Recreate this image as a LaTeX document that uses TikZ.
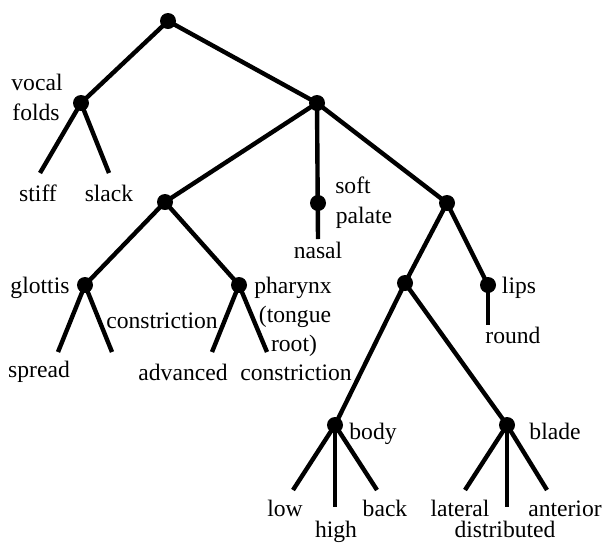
\documentclass[tikz,border=0pt]{standalone}
\usepackage{fontspec}
\setmainfont{Liberation Serif}
\usepackage{tikz}
\tikzset{
  dot/.style={circle, fill=black, inner sep=0pt, minimum size=8pt},
  br/.style={draw=black, line width=2.2pt},
  lab/.style={font=\fontsize{11.8}{14.5}\selectfont, inner sep=0pt, anchor=base},
  every picture/.append style={line cap=butt}
}
\begin{document}
\begin{tikzpicture}[x=0.5pt,y=-0.5pt]
  \useasboundingbox (0,0) rectangle (605,543);
  % dots
  \node[dot] (root) at (168,21) {};
  \node[dot] (vf) at (81,103) {};
  \node[dot] (sup) at (317,103) {};
  \node[dot] (lar) at (165,202) {};
  \node[dot] (sp) at (318,203) {};
  \node[dot] (oral) at (447,203) {};
  \node[dot] (gl) at (85,285) {};
  \node[dot] (ph) at (239,285) {};
  \node[dot] (tng) at (405,283) {};
  \node[dot] (lips) at (488,285) {};
  \node[dot] (body) at (335,425) {};
  \node[dot] (blade) at (507,425) {};
  % free ends
  \coordinate (stiffE) at (40,173);
  \coordinate (slackE) at (109,173);
  \coordinate (nasalE) at (318,239);
  \coordinate (spreadE) at (58,352);
  \coordinate (cgE) at (112,352);
  \coordinate (advE) at (212,352);
  \coordinate (cpE) at (267,352);
  \coordinate (roundE) at (488,325);
  \coordinate (lowE) at (293,490);
  \coordinate (highE) at (335,507);
  \coordinate (backE) at (377,490);
  \coordinate (latE) at (465,490);
  \coordinate (distE) at (507,507);
  \coordinate (antE) at (547,490);
  % branches
  \draw[br] (root.center) -- (vf.center);
  \draw[br] (root.center) -- (sup.center);
  \draw[br] (vf.center) -- (stiffE);
  \draw[br] (vf.center) -- (slackE);
  \draw[br] (sup.center) -- (lar.center);
  \draw[br] (sup.center) -- (nasalE);
  \draw[br] (sup.center) -- (oral.center);
  \draw[br] (lar.center) -- (gl.center);
  \draw[br] (lar.center) -- (ph.center);
  \draw[br] (gl.center) -- (spreadE);
  \draw[br] (gl.center) -- (cgE);
  \draw[br] (ph.center) -- (advE);
  \draw[br] (ph.center) -- (cpE);
  \draw[br] (oral.center) -- (tng.center);
  \draw[br] (oral.center) -- (lips.center);
  \draw[br] (lips.center) -- (roundE);
  \draw[br] (tng.center) -- (body.center);
  \draw[br] (tng.center) -- (blade.center);
  \draw[br] (body.center) -- (lowE);
  \draw[br] (body.center) -- (highE);
  \draw[br] (body.center) -- (backE);
  \draw[br] (blade.center) -- (latE);
  \draw[br] (blade.center) -- (distE);
  \draw[br] (blade.center) -- (antE);
  % labels
  \node[lab] (tvocal) at (37,90) {vocal};
  \node[lab] (tfolds) at (36,120) {folds};
  \node[lab] (tstiff) at (38,201) {stiff};
  \node[lab] (tslack) at (109,201) {slack};
  \node[lab] (tsoft) at (353,193) {soft};
  \node[lab] (tpalate) at (364,223) {palate};
  \node[lab] (tnasal) at (318,258) {nasal};
  \node[lab] (tglottis) at (40,293) {glottis};
  \node[lab] (tcg) at (162,328) {constriction};
  \node[lab] (tpharynx) at (293,293) {pharynx};
  \node[lab] (ttongue) at (295,322) {(tongue};
  \node[lab] (troot) at (294,351) {root)};
  \node[lab] (tspread) at (39,377) {spread};
  \node[lab] (tadv) at (183,380) {advanced};
  \node[lab] (tcp) at (296,380) {constriction};
  \node[lab] (tlips) at (519,293) {lips};
  \node[lab] (tround) at (513,343) {round};
  \node[lab] (tbody) at (373,439) {body};
  \node[lab] (tblade) at (555,439) {blade};
  \node[lab] (tlow) at (285,516) {low};
  \node[lab] (thigh) at (336,537) {high};
  \node[lab] (tback) at (385,516) {back};
  \node[lab] (tlat) at (460,516) {lateral};
  \node[lab] (tdist) at (505,537) {distributed};
  \node[lab] (tant) at (565,516) {anterior};
\end{tikzpicture}
\end{document}
